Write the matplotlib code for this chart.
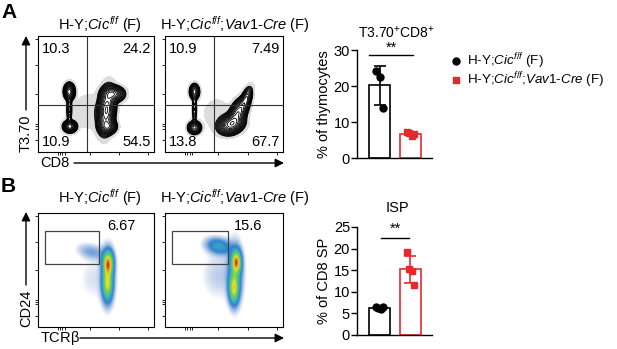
import numpy as np
import matplotlib
matplotlib.use('Agg')
from matplotlib import pyplot as plt
from matplotlib.colors import LinearSegmentedColormap
from matplotlib.lines import Line2D

plt.rcParams['font.family'] = ['Liberation Sans', 'DejaVu Sans']
plt.rcParams['mathtext.fontset'] = 'custom'
plt.rcParams['mathtext.rm'] = 'Liberation Sans'
plt.rcParams['mathtext.it'] = 'Liberation Sans:italic'
plt.rcParams['mathtext.bf'] = 'Liberation Sans:bold'
plt.rcParams['mathtext.sf'] = 'Liberation Sans'

W, H = 617, 349
RED = '#e52a2e'

ctrl_label = r'H-Y;$Cic^{f/f}$ (F)'
ko_label = r'H-Y;$Cic^{f/f}$;$Vav1$-$Cre$ (F)'

# bar chart data
a_ctrl_pts = [24.1, 22.4, 14.0]
a_ko_pts = [7.3, 6.9, 6.2, 6.8]
b_ctrl_pts = [6.5, 6.2, 6.0, 6.5]
b_ko_pts = [19.3, 15.3, 14.7, 11.6]

# quadrant percentages (A) and gate percentages (B)
a_ctrl_quads = ['10.3', '24.2', '10.9', '54.5']
a_ko_quads = ['10.9', '7.49', '13.8', '67.7']
b_ctrl_gate = '6.67'
b_ko_gate = '15.6'

# flow populations: centre x, centre y, sd x, sd y, correlation, weight
a_ctrl_pops = [(0.27, 0.52, 0.022, 0.034, 0.0, 1.0),
               (0.275, 0.22, 0.027, 0.024, 0.0, 1.0),
               (0.27, 0.37, 0.011, 0.065, 0.0, 0.30),
               (0.59, 0.36, 0.035, 0.090, 0.2, 1.4),
               (0.645, 0.50, 0.045, 0.032, 0.0, 1.0),
               (0.60, 0.22, 0.035, 0.030, 0.0, 0.9),
               (0.44, 0.35, 0.080, 0.090, 0.0, 0.03)]
a_ko_pops = [(0.25, 0.52, 0.020, 0.032, 0.0, 0.9),
             (0.25, 0.21, 0.026, 0.026, 0.0, 1.1),
             (0.25, 0.37, 0.011, 0.065, 0.0, 0.25),
             (0.56, 0.24, 0.050, 0.040, 0.2, 1.8),
             (0.62, 0.34, 0.040, 0.060, 0.5, 1.2),
             (0.69, 0.46, 0.025, 0.050, 0.5, 0.6),
             (0.44, 0.33, 0.080, 0.090, 0.0, 0.03)]
b_ctrl_pops = [(0.605, 0.56, 0.027, 0.065, 0.0, 1.0),
               (0.60, 0.38, 0.027, 0.090, 0.0, 0.75),
               (0.60, 0.45, 0.045, 0.170, 0.0, 0.10),
               (0.46, 0.66, 0.075, 0.045, -0.3, 0.10),
               (0.46, 0.42, 0.070, 0.120, 0.0, 0.03)]
b_ko_pops = [(0.60, 0.57, 0.024, 0.060, 0.0, 0.50),
             (0.58, 0.34, 0.025, 0.080, 0.0, 0.38),
             (0.59, 0.47, 0.040, 0.160, 0.0, 0.12),
             (0.45, 0.71, 0.065, 0.045, -0.2, 0.14),
             (0.45, 0.45, 0.090, 0.130, 0.0, 0.025)]

# gate rectangle for ISP (axes fraction): x0, y0, x1, y1
isp_gate = (0.057, 0.55, 0.53, 0.84)

fig = plt.figure(figsize=(W / 100, H / 100), dpi=100)


def px_axes(x0, y0, x1, y1):
    return fig.add_axes([x0 / W, 1 - y1 / H, (x1 - x0) / W, (y1 - y0) / H])


def fx(x):
    return x / W


def fy(y):
    return 1 - y / H


gx = np.linspace(0, 1, 240)
GX, GY = np.meshgrid(gx, gx)


def density(pops):
    z = np.zeros_like(GX)
    for cx, cy, sx, sy, rho, w in pops:
        dx = (GX - cx) / sx
        dy = (GY - cy) / sy
        q = (dx ** 2 - 2 * rho * dx * dy + dy ** 2) / (1 - rho ** 2)
        z += w * np.exp(-0.5 * q)
    return z / z.max()


def flow_frame(ax):
    ax.set_xlim(0, 1)
    ax.set_ylim(0, 1)
    for s in ax.spines.values():
        s.set_linewidth(0.8)
    ax.set_xticks([0.17, 0.19, 0.21, 0.23, 0.45, 0.7, 0.95])
    ax.set_yticks([0.1, 0.2, 0.22, 0.24, 0.5, 0.75, 0.97])
    ax.tick_params(length=2, width=0.6, labelbottom=False, labelleft=False)


def contour_plot(ax, pops, xq, yq, labels):
    z = density(pops)
    ax.contourf(GX, GY, z, levels=[0.006, 0.03], colors=['#dddddd'])
    lev = np.geomspace(0.03, 0.95, 16)
    ax.contour(GX, GY, z, levels=lev, colors='black', linewidths=0.6)
    ax.axvline(xq, color='#333333', lw=0.8)
    ax.axhline(yq, color='#333333', lw=0.8)
    fs = 10.5
    ax.text(0.035, 0.89, labels[0], fontsize=fs, va='center', ha='left', transform=ax.transAxes)
    ax.text(0.97, 0.89, labels[1], fontsize=fs, va='center', ha='right', transform=ax.transAxes)
    ax.text(0.035, 0.09, labels[2], fontsize=fs, va='center', ha='left', transform=ax.transAxes)
    ax.text(0.97, 0.09, labels[3], fontsize=fs, va='center', ha='right', transform=ax.transAxes)
    flow_frame(ax)


flow_cmap = LinearSegmentedColormap.from_list(
    'flow', [(0.0, '#2a4fb0'), (0.3, '#2f82d0'), (0.5, '#3cbcb4'), (0.65, '#74cc48'),
             (0.82, '#e3e42e'), (0.92, '#f08a1e'), (1.0, '#e0261c')])


def pseudo_plot(ax, pops, label, lx):
    z = density(pops)
    rgba = flow_cmap(np.clip(z, 0, 1) ** 0.6)
    rgba[..., 3] = np.clip((z - 0.012) / 0.12, 0, 1) ** 0.8
    ax.imshow(rgba, origin='lower', extent=(0, 1, 0, 1), aspect='auto',
              interpolation='bilinear')
    x0, y0, x1, y1 = isp_gate
    ax.add_patch(plt.Rectangle((x0, y0), x1 - x0, y1 - y0, fill=False,
                               ec='#444444', lw=0.9))
    ax.text(lx, 0.89, label, fontsize=10.5, ha='center', va='center')
    flow_frame(ax)


# panel A flow plots
ax = px_axes(38, 36, 154, 152)
contour_plot(ax, a_ctrl_pops, 0.42, 0.405, a_ctrl_quads)
ax = px_axes(165, 36, 283, 152)
contour_plot(ax, a_ko_pops, 0.415, 0.405, a_ko_quads)

# panel B flow plots
ax = px_axes(38, 213, 154, 327)
pseudo_plot(ax, b_ctrl_pops, b_ctrl_gate, 0.72)
ax = px_axes(165, 213, 283, 327)
pseudo_plot(ax, b_ko_pops, b_ko_gate, 0.70)

# titles, panel letters, axis arrows
for ty in (25, 198):
    fig.text(fx(100), fy(ty), ctrl_label, fontsize=10.5, ha='center', va='center')
    fig.text(fx(235), fy(ty), ko_label, fontsize=10.5, ha='center', va='center')
fig.text(fx(1), fy(12), 'A', fontsize=15, fontweight='bold', va='center')
fig.text(fx(1), fy(187), 'B', fontsize=15, fontweight='bold', va='center')

arrow = dict(arrowstyle='-|>', lw=1.0, color='black', mutation_scale=13,
             shrinkA=0, shrinkB=0)
for ylab, xlab, top, bot, ystart, xtext_end, yrow in [
        ('T3.70', 'CD8', 36, 152, 110, 74, 163),
        ('CD24', r'TCR$\mathrm{\beta}$', 212, 327, 285, 80, 338)]:
    fig.text(fx(26), fy(bot), ylab, fontsize=10.5, rotation=90, ha='center', va='bottom')
    fig.add_artist(plt.Annotation('', xy=(fx(26), fy(top)), xytext=(fx(26), fy(ystart)),
                                  xycoords='figure fraction', arrowprops=arrow))
    fig.text(fx(40), fy(yrow), xlab, fontsize=10.5, ha='left', va='center')
    fig.add_artist(plt.Annotation('', xy=(fx(284), fy(yrow)), xytext=(fx(xtext_end), fy(yrow)),
                                  xycoords='figure fraction', arrowprops=arrow))


def bar_plot(ax, ctrl, ko, ymax, step, ylabel, sig_y, star_y, sig_x):
    groups = [ctrl, ko]
    colors = ['black', RED]
    markers = ['o', 's']
    for i, pts in enumerate(groups):
        m = np.mean(pts)
        sd = np.std(pts, ddof=1)
        ax.bar(i, m, width=0.68, color='white', edgecolor=colors[i], lw=1.2, zorder=1)
        ax.errorbar(i, m, yerr=sd, color=colors[i], capsize=4.5, elinewidth=1.2,
                    capthick=1.2, zorder=2)
        xs = i + np.linspace(-0.12, 0.12, len(pts))
        ax.plot(xs, pts, ls='none', marker=markers[i], ms=5, color=colors[i], zorder=3)
    ax.set_xlim(-0.726, 1.694)
    ax.set_ylim(0, ymax)
    ax.set_yticks(np.arange(0, ymax + 1, step))
    ax.set_xticks([])
    ax.spines['top'].set_visible(False)
    ax.spines['right'].set_visible(False)
    ax.spines['left'].set_linewidth(1.0)
    ax.spines['bottom'].set_linewidth(1.0)
    ax.tick_params(axis='y', length=4, width=1.0, labelsize=10.5, pad=1)
    ax.set_ylabel(ylabel, fontsize=10.5, labelpad=2)
    ax.plot(sig_x, [sig_y, sig_y], color='black', lw=1.0, clip_on=False)
    ax.text(np.mean(sig_x), star_y, '**', fontsize=10.5, ha='center', va='center',
            clip_on=False)


ax = px_axes(357, 50, 432, 158)
bar_plot(ax, a_ctrl_pts, a_ko_pts, 30, 10, '% of thymocytes', 28.6, 30.6, [-0.34, 1.08])
fig.text(fx(396), fy(33), r'T3.70$^{+}$CD8$^{+}$', fontsize=10, ha='center', va='center')

ax = px_axes(357, 227, 432, 335)
bar_plot(ax, b_ctrl_pts, b_ko_pts, 25, 5, '% of CD8 SP', 22.4, 24.6, [0.05, 0.95])
fig.text(fx(397), fy(208), 'ISP', fontsize=10.5, ha='center', va='center')

# legend
for ly, lab, mk, col in [(61, ctrl_label, 'o', 'black'), (80, ko_label, 's', RED)]:
    fig.add_artist(Line2D([fx(456)], [fy(ly)], ls='none', marker=mk, ms=5, color=col,
                          transform=fig.transFigure))
    fig.text(fx(467), fy(ly), lab, fontsize=9.6, ha='left', va='center')

fig.savefig('out.png', dpi=100)
